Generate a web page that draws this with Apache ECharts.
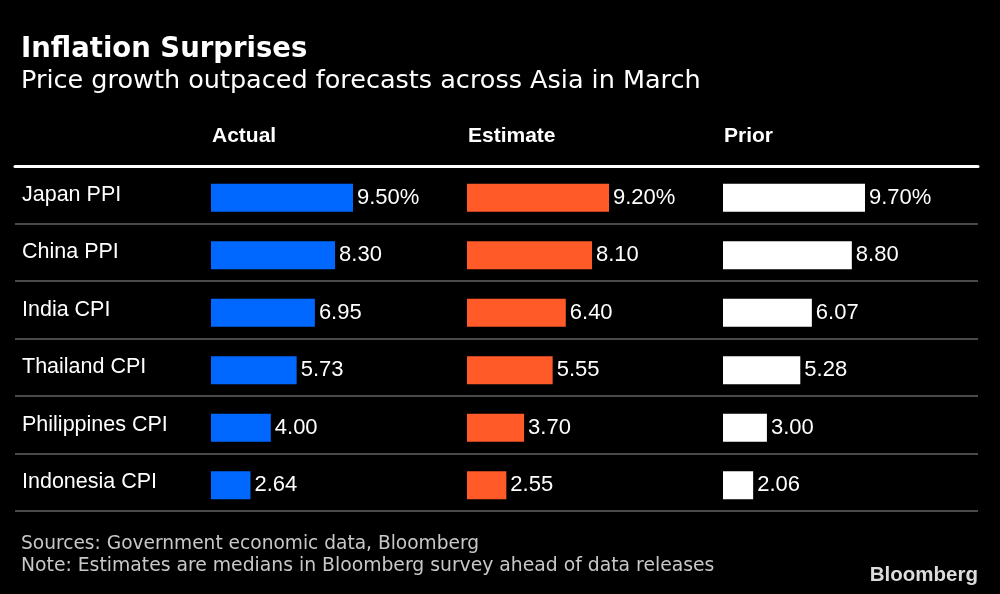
<!DOCTYPE html>
<html><head><meta charset="utf-8">
<script src="https://cdn.jsdelivr.net/npm/echarts@6/dist/echarts.min.js"></script>
<style>html,body{margin:0;padding:0;background:#000}#c{width:1000px;height:594px}</style>
</head><body><div id="c"></div>
<script>
const categories = ['Japan PPI','China PPI','India CPI','Thailand CPI','Philippines CPI','Indonesia CPI'];
const actual = [9.50, 8.30, 6.95, 5.73, 4.00, 2.64];
const estimate = [9.20, 8.10, 6.40, 5.55, 3.70, 2.55];
const prior = [9.70, 8.80, 6.07, 5.28, 3.00, 2.06];
const columnNames = ['Actual','Estimate','Prior'];
const colors = ['#0068ff','#ff5a28','#ffffff'];
const columns = [actual, estimate, prior];

const lefts = [211, 467, 723];
const barW = 142;
const rowTop = 166, rowH = 345;

const chart = echarts.init(document.getElementById('c'));
const grids = [{left: 15, width: 963, top: rowTop, height: rowH}];
const xAxes = [{gridIndex: 0, type: 'value', min: 0, max: 1, position: 'top',
  axisLine: {show: true, lineStyle: {color: '#ffffff', width: 3}}, axisTick: {show: false},
  axisLabel: {show: false}, splitLine: {show: false}}];
const yAxes = [{gridIndex: 0, type: 'category', data: categories, inverse: true,
  axisLine: {show: false}, axisTick: {show: false},
  axisLabel: {inside: true, margin: 7, color: '#ffffff', fontFamily: 'Liberation Sans', fontSize: 21.5},
  splitLine: {show: true, lineStyle: {color: '#4a4a4a', width: 2}}}];
const series = [];
columns.forEach((vals, i) => {
  grids.push({left: lefts[i], width: barW, top: rowTop + 3, height: rowH});
  xAxes.push({gridIndex: i + 1, type: 'value', min: 0, max: Math.max(...vals), show: false});
  yAxes.push({gridIndex: i + 1, type: 'category', data: categories, inverse: true, show: false});
  series.push({
    type: 'bar', xAxisIndex: i + 1, yAxisIndex: i + 1, data: vals, barWidth: 28,
    itemStyle: {color: colors[i]}, silent: true,
    label: {show: true, position: 'right', distance: 4, color: '#ffffff',
      fontFamily: 'Liberation Sans', fontSize: 22,
      formatter: p => p.dataIndex === 0 ? p.value.toFixed(2) + '%' : p.value.toFixed(2)}
  });
});

const titles = [
  {text: 'Inflation Surprises', left: 21, top: 36, textStyle: {color: '#fff', fontFamily: 'DejaVu Sans', fontWeight: 'bold', fontSize: 27.5}},
  {text: 'Price growth outpaced forecasts across Asia in March', left: 21, top: 68, textStyle: {color: '#fff', fontFamily: 'DejaVu Sans', fontWeight: 'normal', fontSize: 25.5}},
  {text: 'Sources: Government economic data, Bloomberg', left: 21, top: 535, textStyle: {color: '#c8c8c8', fontFamily: 'DejaVu Sans', fontWeight: 'normal', fontSize: 18.6}},
  {text: 'Note: Estimates are medians in Bloomberg survey ahead of data releases', left: 21, top: 557, textStyle: {color: '#c8c8c8', fontFamily: 'DejaVu Sans', fontWeight: 'normal', fontSize: 18.8}},
  {text: 'Bloomberg', right: 22, top: 565, textStyle: {color: '#dcdcdc', fontFamily: 'Liberation Sans', fontWeight: 'bold', fontSize: 20.5}}
];
columnNames.forEach((n, i) => titles.push({text: n, left: lefts[i] + 1, top: 126,
  textStyle: {color: '#fff', fontFamily: 'Liberation Sans', fontWeight: 'bold', fontSize: 21}}));

chart.setOption({
  backgroundColor: '#000000',
  animation: false,
  title: titles.map(t => Object.assign({padding: 0}, t)),
  grid: grids, xAxis: xAxes, yAxis: yAxes, series: series
});
</script></body></html>
